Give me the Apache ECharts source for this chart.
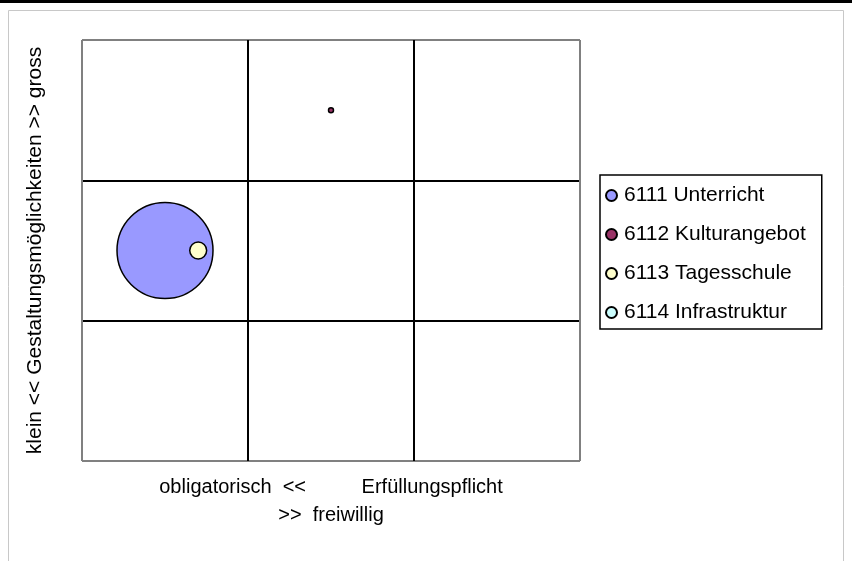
<!DOCTYPE html>
<html>
<head>
<meta charset="utf-8">
<script src="https://cdn.jsdelivr.net/npm/echarts@6/dist/echarts.min.js"></script>
<style>
  html, body { margin: 0; padding: 0; background: #fff; }
  #chart { width: 852px; height: 561px; }
</style>
</head>
<body>
<div id="chart"></div>
<script>
// Daten: [x, y, Blasengrösse]
var seriesNames = ['6111 Unterricht', '6112 Kulturangebot', '6113 Tagesschule', '6114 Infrastruktur'];
var seriesColors = ['#9999FF', '#993366', '#FFFFCC', '#CCFFFF'];
var unterricht = [[0.5, 1.5, 100]];
var kulturangebot = [[1.5, 2.5, 0.27]];
var tagesschule = [[0.7, 1.5, 3.1]];
var infrastruktur = [];
var seriesData = [unterricht, kulturangebot, tagesschule, infrastruktur];

var xTitle = 'obligatorisch  <<          Erfüllungspflicht\n>>  freiwillig';
var yTitle = 'klein << Gestaltungsmöglichkeiten >> gross';

var FONT = "'Liberation Sans', Arial, sans-serif";
// grösste Blase: Durchmesser 96px bei Wert 100 (Fläche proportional)
var bubbleSize = function (val) {
    return 96 * Math.sqrt(val[2] / 100);
};

var chart = echarts.init(document.getElementById('chart'));
chart.setOption({
    animation: false,
    backgroundColor: '#fff',
    textStyle: { fontFamily: FONT, color: '#000' },
    graphic: [
        // Rahmen aussen
        { type: 'rect', shape: { x: 8.5, y: 10.5, width: 835, height: 570 },
          style: { fill: 'none', stroke: '#c8c8c8', lineWidth: 1 }, z: -1 },
        { type: 'rect', shape: { x: 0, y: 0, width: 852, height: 3 },
          style: { fill: '#000' } }
    ],
    grid: { left: 82, right: 272, top: 40, bottom: 100 },
    legend: {
        orient: 'vertical',
        left: 600,
        top: 175,
        data: seriesNames,
        icon: 'circle',
        itemWidth: 11,
        itemHeight: 11,
        itemGap: 18,
        padding: [10, 16, 6, 5],
        borderColor: '#000',
        borderWidth: 1.5,
        textStyle: { fontSize: 21, fontFamily: FONT, color: '#000', padding: [0, 0, 0, 2] }
    },
    xAxis: {
        type: 'value',
        min: 0,
        max: 3,
        interval: 1,
        axisLine: { show: false },
        axisTick: { show: false },
        axisLabel: { show: false },
        splitLine: { show: true, lineStyle: { color: ['#808080', '#000', '#000', '#808080'], width: 2 } },
        name: xTitle,
        nameLocation: 'middle',
        nameGap: 12,
        nameTextStyle: { fontSize: 20, fontFamily: FONT, color: '#000', lineHeight: 28, align: 'center' }
    },
    yAxis: {
        type: 'value',
        min: 0,
        max: 3,
        interval: 1,
        axisLine: { show: false },
        axisTick: { show: false },
        axisLabel: { show: false },
        splitLine: { show: true, lineStyle: { color: ['#808080', '#000', '#000', '#808080'], width: 2 } },
        name: yTitle,
        nameLocation: 'middle',
        nameGap: 36,
        nameTextStyle: { fontSize: 21, fontFamily: FONT, color: '#000' }
    },
    series: seriesNames.map(function (name, i) {
        return {
            name: name,
            type: 'scatter',
            data: seriesData[i],
            symbolSize: bubbleSize,
            itemStyle: { color: seriesColors[i], borderColor: '#000', borderWidth: 1.5, opacity: 1 },
            emphasis: { disabled: true }
        };
    })
});
</script>
</body>
</html>
